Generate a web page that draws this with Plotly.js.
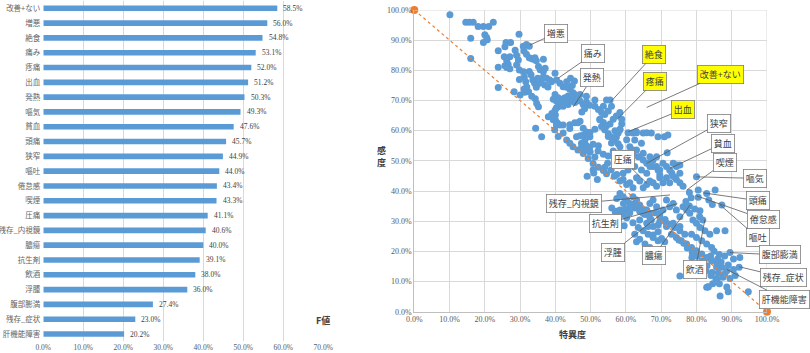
<!DOCTYPE html>
<html><head><meta charset="utf-8">
<script src="https://cdn.plot.ly/plotly-3.0.1.min.js"></script>
<style>html,body{margin:0;padding:0;background:#fff}#c{width:810px;height:353px}</style>
</head><body><div id="c"></div>
<script>
// ---- Left chart: F値 ----
const categories = ["改善+ない","増悪","絶食","痛み","疼痛","出血","発熱","嘔気","貧血","頭痛","狭窄","嘔吐","倦怠感","喫煙","圧痛","残存_内視鏡","膿瘍","抗生剤","飲酒","浮腫","腹部膨満","残存_症状","肝機能障害"];
const fValues = [58.5,56.0,54.8,53.1,52.0,51.2,50.3,49.3,47.6,45.7,44.9,44.0,43.4,43.3,41.1,40.6,40.0,39.1,38.0,36.0,27.4,23.0,20.2];
const fTicks = [0,10,20,30,40,50,60,70];

// ---- Right chart: 特異度 (x) vs 感度 (y), percent ----
const specificity = [
10.1,14.6,15.6,16.7,18.1,19.6,21.1,22.4,16.0,20.0,20.5,19.6,20.7,29.7,16.0,23.8,23.8,23.8,25.7,26.0,27.3,28.6,
25.5,26.2,27.1,26.6,26.2,27.1,25.7,29.0,29.5,29.0,
30.9,31.8,32.6,31.1,31.8,32.6,33.2,33.7,34.2,34.6,
31.0,31.2,31.6,31.9,32.4,33.3,34.3,34.7,35.2,
29.8,29.8,30.0,28.3,31.1,31.3,
36.6,35.2,35.7,36.6,37.1,
32.6,33.1,33.6,34.1,34.6,35.0,35.5,36.0,36.6,37.5,38.4,38.9,37.0,37.9,
34.4,36.1,
39.9,40.3,41.3,42.2,43.2,44.1,45.0,43.6,42.7,41.8,40.8,39.9,39.4,40.3,41.3,42.2,43.2,44.1,45.0,46.0,47.0,47.9,48.8,47.0,45.5,40.3,41.3,42.2,43.6,44.5,45.5,
40.0,40.0,40.5,41.3,42.2,
44.1,45.5,46.4,47.0,
47.9,48.8,49.3,49.8,47.9,47.0,48.8,49.8,48.3,47.4,
44.8,45.4,43.2,44.3,
51.2,48.8,49.7,48.3,47.5,
51.2,52.2,53.6,54.5,55.5,53.1,54.0,55.0,55.9,52.6,53.6,54.5,55.5,56.4,57.3,58.3,54.0,55.0,55.9,56.9,57.3,57.8,58.8,58.8,58.3,
51.2,49.8,48.8,50.7,52.2,48.3,49.7,52.1,53.6,55.0,56.4,57.8,
60.6,63.0,65.9,
62.5,64.4,61.1,62.0,60.2,58.8,61.1,63.5,64.9,66.8,68.7,66.3,67.7,69.1,69.6,65.9,64.4,62.5,60.6,59.2,
70.9,71.7,74.4,75.3,80.0,
49.0,50.9,51.9,54.8,55.8,56.7,
39.4,40.3,39.8,40.8,42.2,43.2,44.1,44.1,45.0,46.0,46.4,47.4,47.9,48.8,49.3,49.8,50.7,51.2,52.2,50.7,53.6,54.5,54.0,
38.0,39.0,39.9,40.8,41.8,
52.6,53.1,54.0,55.0,55.9,56.9,57.8,58.3,60.2,62.0,62.9,64.9,67.2,69.1,71.9,
58.3,59.2,60.2,61.1,62.0,63.0,63.9,64.9,65.9,66.8,67.7,68.7,69.6,70.5,71.5,72.4,73.4,74.3,75.3,
57.4,58.3,59.2,60.2,61.1,62.0,63.0,63.9,64.9,65.9,66.8,67.7,68.7,69.6,70.5,71.5,72.4,73.4,74.3,75.3,76.2,
58.3,59.2,60.2,61.1,62.0,63.0,63.9,64.9,65.9,66.8,67.7,68.7,69.6,70.5,71.5,72.4,73.4,74.3,75.3,76.2,77.2,78.1,79.0,80.0,80.9,81.8,63.9,65.9,67.7,69.6,71.5,73.4,75.3,
56.0,57.4,58.8,60.2,59.7,61.1,62.5,63.9,65.4,66.8,68.2,69.6,71.1,
62.0,63.5,64.9,66.3,67.7,69.1,62.5,63.9,65.4,66.8,
72.4,73.8,75.3,76.7,72.9,74.3,75.7,77.2,78.6,80.0,81.5,82.9,84.3,85.8,87.2,88.6,78.6,80.0,81.5,82.9,84.3,81.0,82.4,83.8,
82.7,84.1,85.5,86.5,84.6,83.2,87.5,88.6,
75.3,78.2,82.9,86.7,89.0,94.7,92.3,92.1,85.3,87.2,85.7,88.1,82.9,80.5,80.5,78.0,78.5,
63.0,66.3,69.1,71.5,67.2,57.0,58.0,59.5,78.7,80.1,81.0,
57.4,59.3,60.2,61.1,62.5,63.9,65.4,66.8,58.3,59.3,
67.7,69.1,70.1,71.0,
75.0,76.4,77.4,78.8,80.2,81.6,83.0,84.4,85.8,83.4,85.7,86.2,
85.0,86.5,88.0,89.5,90.5,87.0,89.0,90.5,88.0,89.5,91.0,86.0,84.0,
78.0,79.5,81.0,77.0,83.5,84.5,73.0,74.0
];
const sensitivity = [
98.4,95.9,95.9,95.9,94.5,94.5,94.5,95.9,90.6,91.8,90.9,89.2,90.1,92.0,83.9,86.5,81.0,74.3,87.8,89.2,89.2,86.7,
84.5,83.2,84.5,82.0,80.9,80.5,81.5,85.0,83.4,81.8,
88.0,88.6,88.0,86.4,85.3,84.2,83.9,83.7,84.2,83.2,
79.5,77.8,76.2,74.5,72.9,71.4,70.6,69.0,67.9,
80.1,77.0,71.8,72.9,73.8,72.7,
83.7,81.3,80.2,79.6,80.7,
79.6,78.5,76.8,75.7,74.4,77.4,75.7,76.8,77.9,77.4,76.8,76.2,75.1,74.5,
60.8,58.0,
79.0,76.8,75.7,74.6,74.4,73.7,72.6,71.5,70.9,70.4,70.9,72.0,70.4,69.8,69.3,70.4,69.8,70.4,70.4,71.0,69.8,68.7,71.4,72.0,72.0,67.6,68.7,68.1,68.7,69.8,69.3,
65.2,63.5,62.6,61.9,61.9,
62.0,62.6,62.6,63.1,
60.8,59.6,58.5,58.0,58.5,58.3,55.1,53.0,53.4,54.5,
75.0,76.5,76.2,77.4,
70.2,69.5,68.4,67.3,66.2,
68.1,67.0,68.1,70.2,70.2,66.0,65.4,66.5,68.1,63.8,62.7,61.6,62.2,63.8,64.9,66.0,60.5,59.0,57.9,60.0,57.9,55.7,63.8,62.2,60.5,
60.5,59.4,57.7,55.5,55.0,56.6,54.4,53.3,52.2,51.6,53.3,52.2,
59.3,59.3,59.3,
56.9,55.8,54.7,53.6,52.5,50.3,50.3,51.4,52.5,51.4,51.4,49.2,48.1,47.0,45.4,45.9,47.0,48.1,47.0,45.9,
58.0,52.7,48.6,45.9,44.7,
44.9,46.0,43.8,49.2,47.0,44.9,
63.6,62.0,60.3,58.1,59.2,56.9,60.7,55.8,54.7,58.0,53.6,55.8,52.4,54.1,50.8,52.9,49.1,51.3,47.9,47.0,46.8,45.7,47.9,
64.6,65.7,66.8,67.9,68.4,
63.6,61.4,60.3,58.1,55.9,57.0,59.2,60.3,57.0,59.2,59.7,59.2,59.2,58.0,58.6,
54.7,52.5,51.4,50.8,52.5,53.6,51.4,50.3,49.2,48.1,50.3,48.1,47.0,49.2,48.1,47.0,49.2,48.1,48.6,
45.5,43.3,43.8,42.2,42.7,41.1,44.4,43.3,41.1,42.2,43.3,42.7,41.6,44.4,42.7,44.4,42.7,44.9,43.8,42.7,41.6,
39.2,38.1,37.0,35.9,38.1,37.0,34.8,32.6,33.7,35.9,37.0,34.8,32.6,33.7,37.0,34.8,35.9,33.7,31.5,34.8,33.7,32.6,30.4,29.3,31.5,30.4,30.4,29.3,28.2,29.9,28.2,29.3,28.2,
34.4,33.3,32.2,31.1,33.9,32.8,34.4,33.3,32.2,31.1,32.8,31.7,30.6,
29.5,27.9,26.8,25.7,24.6,23.5,25.7,24.0,22.4,21.3,
29.0,27.9,26.8,25.7,25.7,24.6,23.5,22.4,21.3,20.2,19.1,18.0,16.9,15.8,14.7,13.6,25.7,24.6,23.5,22.4,21.3,27.9,26.8,25.7,
13.6,12.0,10.9,9.3,9.3,8.2,11.4,8.2,
11.8,13.8,8.1,5.2,6.6,6.6,18.0,14.7,40.3,35.4,26.8,26.8,39.2,40.3,37.9,39.5,37.8,
23.2,28.2,28.7,29.3,30.4,33.0,31.0,28.5,18.0,15.5,13.0,
37.5,35.9,33.7,34.8,35.9,35.4,33.7,32.6,33.7,32.6,
25.4,26.5,24.3,23.2,
23.8,22.7,21.1,19.5,18.4,16.8,15.2,13.0,10.9,8.3,14.8,12.9,
20.0,19.0,18.5,19.6,17.5,16.5,15.5,14.0,12.5,11.0,12.0,17.5,18.5,
35.0,34.0,33.5,36.5,37.0,35.5,46.0,44.5
];
const refX = [0,100];
const refY = [100,0];
const axisTicks = [0,10,20,30,40,50,60,70,80,90,100];

// labels: text, label position (spec, sens), point (spec, sens), highlighted
const labelText = ["増悪","痛み","発熱","絶食","疼痛","改善+ない","出血","狭窄","貧血","喫煙","嘔気","頭痛","倦怠感","嘔吐","腹部膨満","残存_症状","肝機能障害","飲酒","膿瘍","浮腫","抗生剤","残存_内視鏡","圧痛"];
const labelX = [40.2,50.8,50.4,68.0,68.2,86.7,76.2,86.4,87.5,88.0,96.7,97.4,98.9,97.4,103.7,104.6,105.0,79.7,68.0,56.3,54.1,45.3,59.1];
const labelY = [92.3,85.5,77.5,85.3,76.4,78.7,67.1,62.4,55.8,49.6,44.2,36.8,30.7,24.5,18.8,11.4,4.1,14.0,18.6,19.7,29.1,35.8,50.4];
const pointX = [32.8,40.8,45.1,55.7,57.8,65.9,60.7,65.9,72.5,77.2,80.0,81.9,80.0,86.7,89.5,92.1,88.6,82.4,78.2,71.5,74.6,72.5,65.9];
const pointY = [88.4,77.4,67.9,69.6,64.1,67.7,59.7,49.2,47.5,40.3,44.7,39.4,38.4,35.4,19.6,14.9,14.0,30.6,35.4,33.7,35.8,38.7,42.6];
const labelHi = [0,0,0,1,1,1,1,0,0,0,0,0,0,0,0,0,0,0,0,0,0,0,0];

const blue = '#5B9BD5', orange = '#ED7D31';
const jp = '"Noto Sans CJK JP", "Noto Sans", sans-serif';
const serif = '"Liberation Serif", "DejaVu Serif", serif';

const traces = [
  {type:'bar', orientation:'h', x:fValues, y:categories, xaxis:'x', yaxis:'y',
   marker:{color:blue}, hoverinfo:'none'},
  {type:'scatter', mode:'markers', x:specificity, y:sensitivity, xaxis:'x2', yaxis:'y2',
   marker:{color:blue,size:7}, hoverinfo:'none', cliponaxis:false},
  {type:'scatter', mode:'lines+markers', x:refX, y:refY, xaxis:'x2', yaxis:'y2',
   line:{color:orange,width:1.2,dash:'dot'}, marker:{color:orange,size:8}, cliponaxis:false, hoverinfo:'none'}
];

// bar value labels (anchored at the bar's value on the axis)
const annotations = fValues.map((v,i)=>({
  text:v.toFixed(1)+'%', x:v, y:categories[i], xref:'x', yref:'y', xanchor:'left', xshift:4,
  showarrow:false, font:{family:serif,size:7.5,color:'#404040'}
}));
labelText.forEach((t,i)=>annotations.push({
  text:t, x:pointX[i], y:pointY[i], xref:'x2', yref:'y2',
  ax:labelX[i], ay:labelY[i], axref:'x2', ayref:'y2',
  showarrow:true, arrowhead:0, arrowwidth:0.8, arrowcolor:'#595959',
  font:{family:jp,size:9,color:'#404040'},
  bgcolor: labelHi[i] ? '#FFFF00' : '#FFFFFF', bordercolor:'#7F7F7F', borderwidth:0.8, borderpad:2
}));
annotations.push({text:'<b>F値</b>', xref:'paper', yref:'paper', x:323/810, y:(353-330)/353,
  showarrow:false, font:{family:jp,size:9,color:'#404040'}, bgcolor:'#FFFFFF', borderpad:2});
annotations.push({text:'<b>感<br>度</b>', xref:'paper', yref:'paper', x:381/810, y:(353-156)/353,
  showarrow:false, font:{family:jp,size:9,color:'#404040'}});
annotations.push({text:'<b>特異度</b>', xref:'paper', yref:'paper', x:588/810, y:(353-343)/353,
  showarrow:false, font:{family:jp,size:9,color:'#404040'}});

const layout = {
  width:810, height:353, margin:{l:0,r:0,t:0,b:0}, paper_bgcolor:'#fff', plot_bgcolor:'#fff',
  showlegend:false, bargap:0.62, font:{family:jp},
  xaxis:{domain:[43.3/810,323.3/810], range:[0,70], tickvals:fTicks, ticktext:fTicks.map(v=>v.toFixed(1)+'%'),
    showgrid:true, gridcolor:'#D9D9D9', gridwidth:1, zeroline:false, showline:false, ticks:'',
    tickfont:{family:serif,size:7.5,color:'#595959'}, anchor:'y', fixedrange:true},
  yaxis:{domain:[(353-341.4)/353,(353-0.9)/353], type:'category', autorange:'reversed', showgrid:false,
    showline:false, ticks:'', tickfont:{family:jp,size:7.5,color:'#666666'}, anchor:'x', ticklabelstandoff:2},
  xaxis2:{domain:[414.3/810,767/810], range:[0,100], tickvals:axisTicks, ticktext:axisTicks.map(v=>v.toFixed(1)+'%'),
    showgrid:true, gridcolor:'#D9D9D9', gridwidth:1, zeroline:false, showline:true, linecolor:'#BFBFBF', linewidth:1,
    mirror:false, ticks:'', tickfont:{family:serif,size:8,color:'#595959'}, anchor:'y2'},
  yaxis2:{domain:[(353-311.7)/353,(353-10)/353], range:[0,100], tickvals:axisTicks, ticktext:axisTicks.map(v=>v.toFixed(1)+'%'),
    showgrid:true, gridcolor:'#D9D9D9', gridwidth:1, zeroline:false, showline:true, linecolor:'#BFBFBF', linewidth:1,
    ticks:'', tickfont:{family:serif,size:8,color:'#595959'}, anchor:'x2'},
  shapes:[
    {type:'line', xref:'x2', yref:'y2', x0:0, x1:100, y0:100, y1:100, line:{color:'#D9D9D9',width:1}},
    {type:'line', xref:'x2', yref:'y2', x0:100, x1:100, y0:0, y1:100, line:{color:'#D9D9D9',width:1}}
  ],
  annotations:annotations
};
Plotly.newPlot('c', traces, layout, {staticPlot:true, displayModeBar:false});
</script></body></html>
